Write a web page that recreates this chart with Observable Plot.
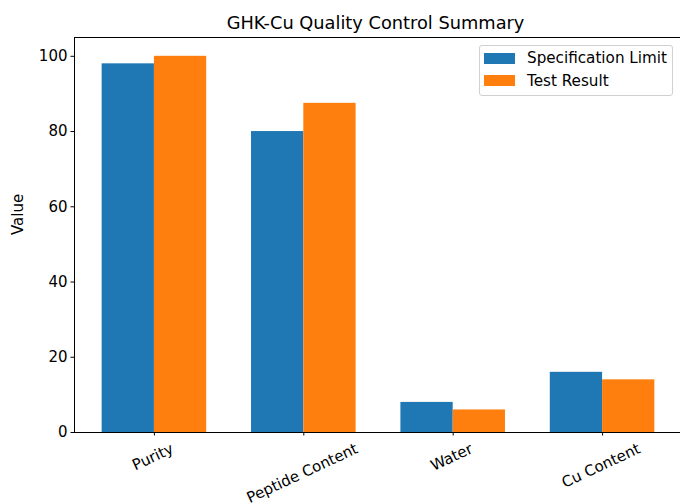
<!DOCTYPE html>
<html>
<head>
<meta charset="utf-8">
<script src="https://cdn.jsdelivr.net/npm/d3@7"></script>
<script src="https://cdn.jsdelivr.net/npm/@observablehq/plot@0.6"></script>
<style>
  html, body { margin: 0; padding: 0; background: #fff; overflow: hidden; }
  #wrap { position: relative; width: 680px; height: 504px; font-family: "DejaVu Sans", sans-serif; }
  #legend {
    position: absolute; left: 479px; top: 45px; width: 194px; height: 51px;
    border: 1px solid #d0d0d0; border-radius: 3px; background: rgba(255,255,255,0.8);
    box-sizing: border-box; font-size: 15.2px; color: #000;
  }
  .item { position: absolute; left: 4px; display: flex; align-items: center; height: 18px; }
  .sw { width: 31px; height: 11px; margin-right: 12px; }
</style>
</head>
<body>
<div id="wrap"></div>
<script>
const categories = ["Purity", "Peptide Content", "Water", "Cu Content"];
const seriesNames = ["Specification Limit", "Test Result"];
const specLimit = [98, 80, 8, 16];
const testResult = [100, 87.5, 6, 14];
const colors = ["#1f77b4", "#ff7f0e"];
const yTicks = [0, 20, 40, 60, 80, 100];
const title = "GHK-Cu Quality Control Summary";
const yLabel = "Value";

const barWidth = 0.35;
const rows = [];
categories.forEach((c, i) => {
  rows.push({i, cat: c, series: seriesNames[0], value: specLimit[i], x1: i - barWidth, x2: i});
  rows.push({i, cat: c, series: seriesNames[1], value: testResult[i], x1: i, x2: i + barWidth});
});

const FONT = "DejaVu Sans";
const tickFont = 15;
const ctx = document.createElement("canvas").getContext("2d");
ctx.font = `${tickFont}px "${FONT}"`;
const rot = 25 * Math.PI / 180;
const lineH = tickFont * 1.164;

const labelMarks = categories.map((c, i) => {
  const w = ctx.measureText(c).width;
  const h = w * Math.sin(rot) + lineH * Math.cos(rot);
  return Plot.text([{i, c}], {
    x: "i", y: () => 0, text: "c", rotate: -25,
    textAnchor: "middle", lineAnchor: "middle",
    dy: 7.5 + h / 2, dx: -1.5, fontSize: tickFont, fill: "black"
  });
});

const chart = Plot.plot({
  width: 680,
  height: 504,
  marginLeft: 74,
  marginRight: -2,
  marginTop: 37,
  marginBottom: 72,
  style: {fontFamily: FONT, color: "black", background: "white", overflow: "hidden"},
  x: {domain: [-0.535, 3.535], axis: null},
  y: {domain: [0, 105], axis: null},
  color: {domain: seriesNames, range: colors},
  marks: [
    Plot.rectY(rows, {x1: "x1", x2: "x2", y1: 0, y2: "value", fill: "series"}),
    Plot.frame({stroke: "black", strokeWidth: 1}),
    Plot.axisY({ticks: yTicks, tickSize: 3.5, tickPadding: 3.5, fontSize: tickFont, label: null, stroke: "black", fill: "black"}),
    Plot.axisX({ticks: [0, 1, 2, 3], tickSize: 3.5, tickFormat: () => "", label: null, stroke: "black"}),
    ...labelMarks,
    Plot.text([title], {frameAnchor: "top", text: d => d, lineAnchor: "bottom", dy: -9, dx: -3, fontSize: 17.8, fill: "black"}),
    Plot.text([yLabel], {frameAnchor: "left", text: d => d, rotate: -90, dx: -56, fontSize: tickFont, fill: "black"})
  ]
});

const wrap = document.getElementById("wrap");
wrap.appendChild(chart);

const legend = document.createElement("div");
legend.id = "legend";
seriesNames.forEach((s, k) => {
  const it = document.createElement("div");
  it.className = "item";
  it.style.top = (k === 0 ? 3 : 25.5) + "px";
  const sw = document.createElement("div");
  sw.className = "sw";
  sw.style.background = colors[k];
  const tx = document.createElement("span");
  tx.textContent = s;
  it.appendChild(sw);
  it.appendChild(tx);
  legend.appendChild(it);
});
wrap.appendChild(legend);
</script>
</body>
</html>
